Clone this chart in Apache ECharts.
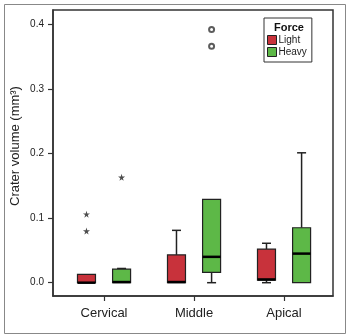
<!DOCTYPE html>
<html>
<head>
<meta charset="utf-8">
<script src="https://cdn.jsdelivr.net/npm/echarts@6/dist/echarts.min.js"></script>
<style>
html,body{margin:0;padding:0;background:#fff;}
#c{width:346px;height:334px;}
</style>
</head>
<body>
<div id="c"></div>
<script>
// ---- data ----
var categories = ['Cervical', 'Middle', 'Apical'];
// [min, Q1, median, Q3, max]
var lightBox = [
  [0, 0, 0, 0.013, 0.013],
  [0, 0, 0.001, 0.043, 0.081],
  [0, 0.004, 0.005, 0.052, 0.061]
];
var heavyBox = [
  [0, 0, 0.001, 0.021, 0.022],
  [0, 0.016, 0.040, 0.129, 0.129],
  [0, 0, 0.045, 0.085, 0.201]
];
// extreme outliers (stars): [categoryIndex, value]
var lightExtreme = [[0, 0.106], [0, 0.080]];
var heavyExtreme = [[0, 0.163]];
// outliers (circles)
var lightOutliers = [];
var heavyOutliers = [[1, 0.392], [1, 0.366]];
var yTicks = [0, 0.1, 0.2, 0.3, 0.4];

// ---- layout/style ----
var RED = '#c8323b', GREEN = '#5db847';
var OFFSET = 0.195, BOXW = 0.2, CAPW = 0.1;
var STAR = 'path://M50,0 L61,35 L98,35 L68,57 L79,91 L50,70 L21,91 L32,57 L2,35 L39,35 Z';
var FONT = 'Liberation Sans, Arial, sans-serif';

function boxData(arr, off) {
  return arr.map(function (b, i) { return [i + off].concat(b); });
}
function ptData(arr, off) {
  return arr.map(function (p) { return [p[0] + off, p[1]]; });
}

function renderBox(params, api) {
  var x = api.value(0);
  var mn = api.value(1), q1 = api.value(2), md = api.value(3), q3 = api.value(4), mx = api.value(5);
  var hw = api.size([BOXW, 0])[0] / 2;
  var cw = api.size([CAPW, 0])[0] / 2;
  var c = function (v) { return api.coord([x, v]); };
  var pMn = c(mn), pQ1 = c(q1), pMd = c(md), pQ3 = c(q3), pMx = c(mx);
  var cx = pMd[0];
  var line = { stroke: '#222', lineWidth: 1.5 };
  var children = [];
  if (mx - q3 > 1e-6) {
    children.push({ type: 'line', shape: { x1: cx, y1: pQ3[1], x2: cx, y2: pMx[1] }, style: line });
    children.push({ type: 'line', shape: { x1: cx - cw, y1: pMx[1], x2: cx + cw, y2: pMx[1] }, style: line });
  }
  if (q1 - mn > 1e-6) {
    children.push({ type: 'line', shape: { x1: cx, y1: pQ1[1], x2: cx, y2: pMn[1] }, style: line });
    children.push({ type: 'line', shape: { x1: cx - cw, y1: pMn[1], x2: cx + cw, y2: pMn[1] }, style: line });
  }
  children.push({
    type: 'rect',
    shape: { x: cx - hw, y: pQ3[1], width: hw * 2, height: pQ1[1] - pQ3[1] },
    style: { fill: api.visual('color'), stroke: '#222', lineWidth: 1.2 }
  });
  children.push({ type: 'line', shape: { x1: cx - hw, y1: pMd[1], x2: cx + hw, y2: pMd[1] }, style: { stroke: '#000', lineWidth: 2.5 } });
  return { type: 'group', children: children };
}

var chart = echarts.init(document.getElementById('c'), null, { renderer: 'canvas' });
chart.setOption({
  animation: false,
  backgroundColor: '#fff',
  textStyle: { fontFamily: FONT },
  grid: { left: 53, right: 13, top: 10, bottom: 38, show: true, borderColor: '#333', borderWidth: 1.5, backgroundColor: 'transparent' },
  legend: {
    data: ['Light', 'Heavy'],
    orient: 'vertical',
    left: 264, top: 18,
    padding: [17, 5, 5, 3],
    itemWidth: 9, itemHeight: 9, itemGap: 2,
    borderColor: '#333', borderWidth: 1,
    icon: 'rect',
    itemStyle: { borderColor: '#222', borderWidth: 1 },
    textStyle: { fontSize: 10, color: '#222', fontFamily: FONT, padding: [0, 0, 0, -3] }
  },
  graphic: [
    { type: 'rect', left: 2, top: 2, shape: { width: 341, height: 329 }, style: { fill: 'none', stroke: '#888', lineWidth: 1 }, silent: true },
    { type: 'text', x: 289, y: 28, style: { text: 'Force', font: 'bold 11px ' + FONT, fill: '#111', textAlign: 'center', textVerticalAlign: 'middle' } },
    { type: 'text', x: 15, y: 146, rotation: Math.PI / 2, style: { text: 'Crater volume (mm³)', font: '13px ' + FONT, fill: '#222', textAlign: 'center', textVerticalAlign: 'middle' } }
  ],
  xAxis: {
    type: 'value', min: -0.567, max: 2.544,
    splitLine: { show: false },
    axisLine: { show: true, onZero: false, lineStyle: { color: '#333', width: 1.5 } },
    axisTick: { show: true, length: 5, customValues: [0, 1, 2], lineStyle: { color: '#333', width: 1.2 } },
    axisLabel: {
      customValues: [0, 1, 2], margin: 11, fontSize: 13, color: '#222', fontFamily: FONT,
      formatter: function (v) { return categories[Math.round(v)]; }
    }
  },
  yAxis: {
    type: 'value', min: -0.0206, max: 0.422,
    splitLine: { show: false },
    axisLine: { show: true, onZero: false, lineStyle: { color: '#333', width: 1.5 } },
    axisTick: { show: true, length: 5, customValues: yTicks, lineStyle: { color: '#333', width: 1.2 } },
    axisLabel: {
      customValues: yTicks, margin: 9, fontSize: 10, color: '#222', fontFamily: FONT,
      formatter: function (v) { return v.toFixed(1); }
    }
  },
  series: [
    { name: 'Light', type: 'custom', renderItem: renderBox, itemStyle: { color: RED }, data: boxData(lightBox, -OFFSET), encode: { x: 0, y: [1, 2, 3, 4, 5] }, z: 2 },
    { name: 'Heavy', type: 'custom', renderItem: renderBox, itemStyle: { color: GREEN }, data: boxData(heavyBox, OFFSET), encode: { x: 0, y: [1, 2, 3, 4, 5] }, z: 2 },
    { name: 'LightExt', type: 'scatter', symbol: STAR, symbolSize: 7, itemStyle: { color: '#222' }, data: ptData(lightExtreme, -OFFSET), z: 3 },
    { name: 'HeavyExt', type: 'scatter', symbol: STAR, symbolSize: 7, itemStyle: { color: '#222' }, data: ptData(heavyExtreme, OFFSET), z: 3 },
    { name: 'LightOut', type: 'scatter', symbol: 'emptyCircle', symbolSize: 5, itemStyle: { color: '#333', borderColor: '#333', borderWidth: 1 }, data: ptData(lightOutliers, -OFFSET), z: 3 },
    { name: 'HeavyOut', type: 'scatter', symbol: 'emptyCircle', symbolSize: 5, itemStyle: { color: '#333', borderColor: '#333', borderWidth: 1 }, data: ptData(heavyOutliers, OFFSET), z: 3 }
  ]
});
</script>
</body>
</html>
